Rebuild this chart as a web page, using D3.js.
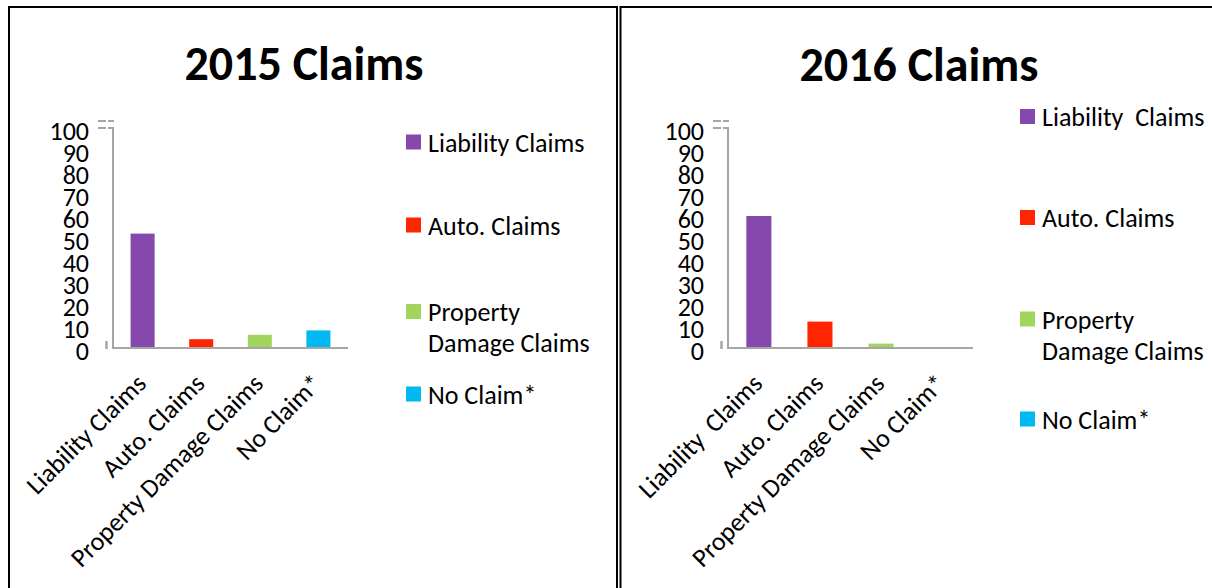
<!DOCTYPE html>
<html>
<head>
<meta charset="utf-8">
<script src="https://cdn.jsdelivr.net/npm/d3@7"></script>
<style>
body { margin: 0; background: #fff; }
svg { display: block; font-family: Carlito, Lato, sans-serif; }
</style>
</head>
<body>
<div class="chart"></div>
<script>
/* Data
============================================= */
const CATEGORIES_2015 = ["Liability Claims", "Auto. Claims", "Property Damage Claims", "No Claim*"];
const VALUES_2015 = [52, 4, 6, 8];
const LEGEND_2015 = [["Liability Claims"], ["Auto. Claims"], ["Property", "Damage Claims"], ["No Claim*"]];

const CATEGORIES_2016 = ["Liability  Claims", "Auto. Claims", "Property Damage Claims", "No Claim*"];
const VALUES_2016 = [60, 12, 2, 0];
const LEGEND_2016 = [["Liability  Claims"], ["Auto. Claims"], ["Property", "Damage Claims"], ["No Claim*"]];

const Y_TICKS = [0, 10, 20, 30, 40, 50, 60, 70, 80, 90, 100];
const COLORS = ["#8548ad", "#ff2500", "#a1d55e", "#00b9f1"];

/* Global Constants
============================================= */
const SVG_WIDTH = 1212;
const SVG_HEIGHT = 588;
const AXIS_COLOR = "#a6a6a6";
const Y_TOP = 128;
const Y_BOTTOM = 348;
const FONT_SIZE = 26;

var svg = d3.select(".chart")
    .append("svg")
    .attr("width", SVG_WIDTH)
    .attr("height", SVG_HEIGHT);

// panel frames
svg.append("path")
    .attr("d", "M9,600V7H617V600")
    .attr("fill", "none")
    .attr("stroke", "#000")
    .attr("stroke-width", 2);

svg.append("path")
    .attr("d", "M620.5,600V7H1220")
    .attr("fill", "none")
    .attr("stroke", "#000")
    .attr("stroke-width", 2);

drawPanel({
    title: "2015 Claims",
    titleX: 304,
    titleY: 80,
    left: 113,
    right: 348,
    categories: CATEGORIES_2015,
    values: VALUES_2015,
    legend: LEGEND_2015,
    legendX: 406,
    legendY: [142, 225, 311.5, 394]
});

drawPanel({
    title: "2016 Claims",
    titleX: 919,
    titleY: 81,
    left: 728,
    right: 973,
    categories: CATEGORIES_2016,
    values: VALUES_2016,
    legend: LEGEND_2016,
    legendX: 1020,
    legendY: [116.5, 217.5, 319, 419]
});

/* Functions
============================================= */

/*
 * draws one bar chart panel: title, axis, bars, labels, legend
 *
 * @param p panel settings
 */
function drawPanel(p) {
    var g = svg.append("g");

    var xBand = d3.scaleBand()
        .domain(p.categories)
        .range([p.left, p.right])
        .paddingInner(0.59)
        .paddingOuter(0.3);

    var yLinear = d3.scaleLinear()
        .domain([0, 100])
        .range([Y_BOTTOM, Y_TOP]);

    // title
    g.append("text")
        .attr("x", p.titleX)
        .attr("y", p.titleY)
        .attr("text-anchor", "middle")
        .attr("font-weight", "bold")
        .attr("font-size", 48)
        .text(p.title);

    // y tick labels
    var yAxis = g.append("g")
        .attr("transform", `translate(${p.left}, 0)`)
        .call(d3.axisLeft(yLinear).tickValues(Y_TICKS).tickSize(0).tickPadding(24));
    yAxis.attr("font-family", null).attr("font-size", null);
    yAxis.select(".domain").remove();
    yAxis.selectAll("text")
        .attr("font-size", FONT_SIZE)
        .attr("fill", "#000")
        .attr("dy", "0.45em");

    // bars
    g.selectAll("rect.bar")
        .data(p.values)
        .enter()
        .append("rect")
        .attr("class", "bar")
        .attr("x", function(d, i) { return xBand(p.categories[i]); })
        .attr("y", function(d) { return yLinear(d); })
        .attr("width", xBand.bandwidth())
        .attr("height", function(d) { return yLinear(0) - yLinear(d); })
        .attr("fill", function(d, i) { return COLORS[i]; });

    // axis lines
    g.append("path")
        .attr("d", `M${p.left},${yLinear(100)}V${yLinear(0)}H${p.right}`)
        .attr("fill", "none")
        .attr("stroke", AXIS_COLOR)
        .attr("stroke-width", 2);

    // break marks at the top of the axis
    [yLinear(100), yLinear(100) - 7].forEach(function(yy) {
        g.append("line")
            .attr("x1", p.left - 15)
            .attr("x2", p.left + 1)
            .attr("y1", yy)
            .attr("y2", yy)
            .attr("stroke", AXIS_COLOR)
            .attr("stroke-width", 2)
            .attr("stroke-dasharray", "8,2");
    });

    // small mark at zero
    g.append("line")
        .attr("x1", p.left - 6.5)
        .attr("x2", p.left - 6.5)
        .attr("y1", yLinear(0) - 7)
        .attr("y2", yLinear(0) + 1)
        .attr("stroke", AXIS_COLOR)
        .attr("stroke-width", 2.5);

    // category labels
    g.selectAll("text.xlabel")
        .data(p.categories)
        .enter()
        .append("text")
        .attr("class", "xlabel")
        .attr("transform", function(d) {
            return `translate(${xBand(d) + xBand.bandwidth() / 2 + 5}, 385) rotate(-45)`;
        })
        .attr("text-anchor", "end")
        .attr("font-size", FONT_SIZE)
        .style("white-space", "pre")
        .text(function(d) { return d; });

    // legend
    var items = g.selectAll("g.legend")
        .data(p.legend)
        .enter()
        .append("g")
        .attr("class", "legend")
        .attr("transform", function(d, i) { return `translate(${p.legendX}, ${p.legendY[i]})`; });

    items.append("rect")
        .attr("x", 0)
        .attr("y", -7.5)
        .attr("width", 15)
        .attr("height", 15)
        .attr("fill", function(d, i) { return COLORS[i]; });

    items.append("text")
        .attr("x", 22)
        .attr("y", 9.5)
        .attr("font-size", FONT_SIZE)
        .style("white-space", "pre")
        .selectAll("tspan")
        .data(function(d) { return d; })
        .enter()
        .append("tspan")
        .attr("x", 22)
        .attr("dy", function(d, i) { return i === 0 ? 0 : 31; })
        .text(function(d) { return d; });
}
</script>
</body>
</html>
